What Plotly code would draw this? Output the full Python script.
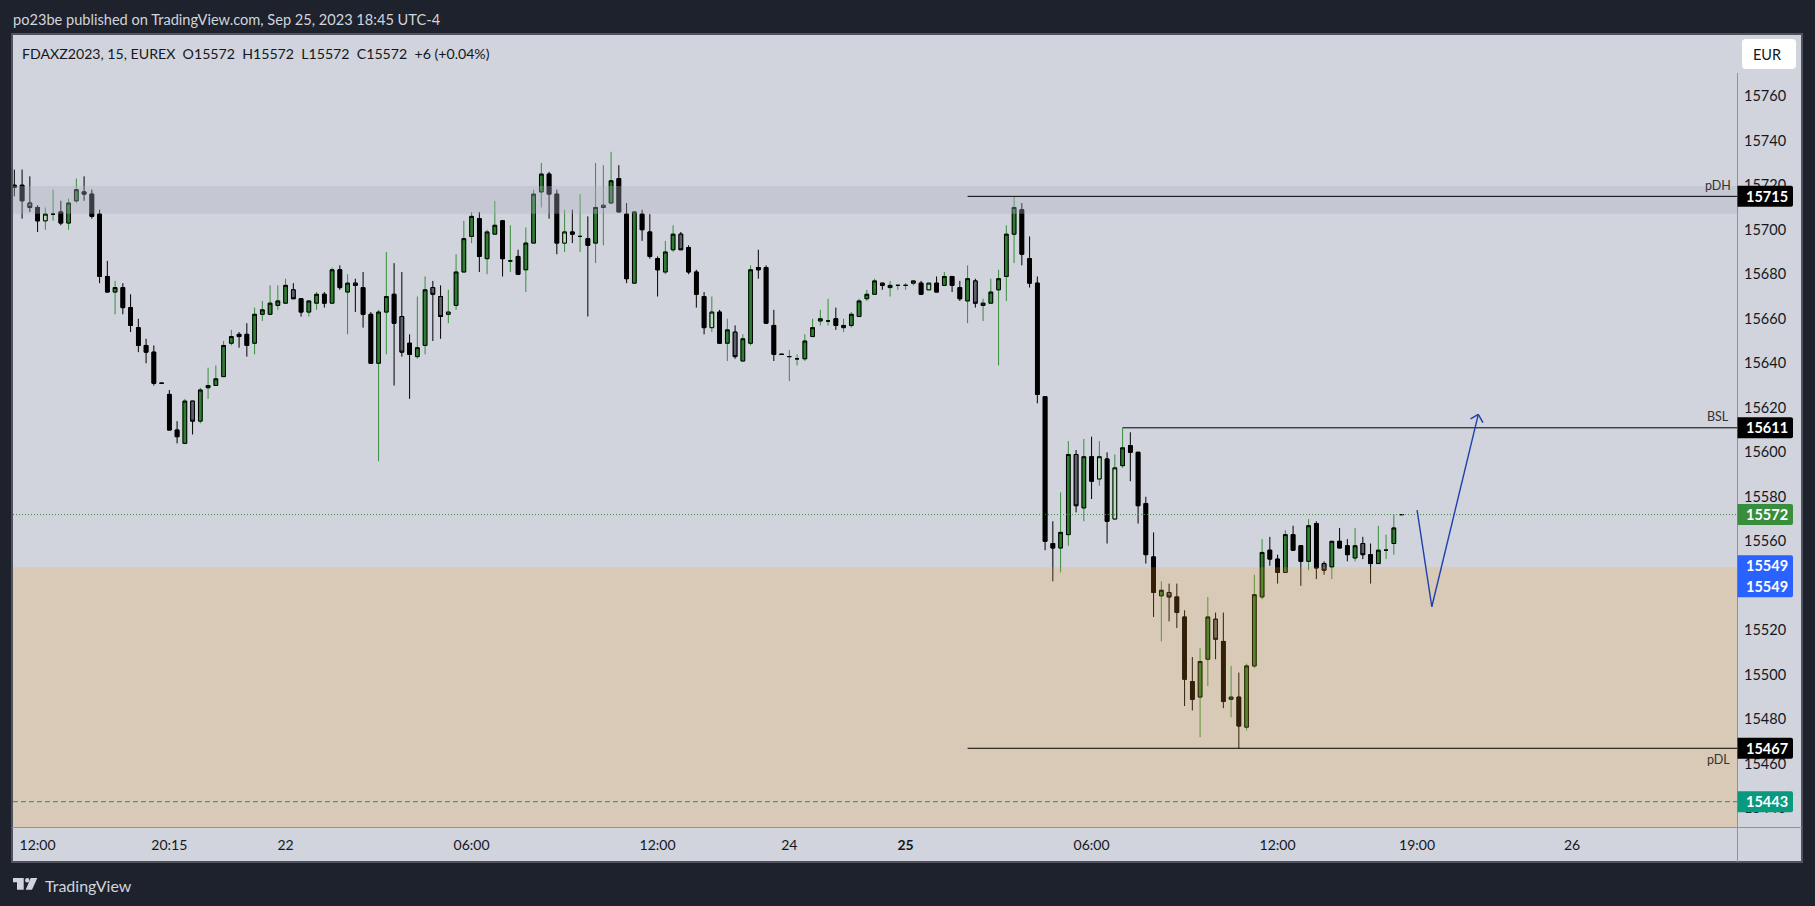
import plotly.graph_objects as go

# ---------- data ----------
opens = [15720,15720,15712,15710,15704,15707,15708,15703,15713,15717,15716,15707,15679,15672,15674,15665,15656,15648,15645,15631,
15626,15610,15604,15623,15614,15629,15630,15634,15649,15653,15653,15649,15662,15662,15666,15667,15673,15669,15663,15667,
15671,15667,15682,15672,15676,15674,15662,15640,15663,15671,15661,15649,15643,15648,15674,15670,15662,15666,15681,15697,
15705,15687,15698,15704,15686,15688,15682,15694,15717,15725,15716,15694,15699,15697,15696,15694,15710,15712,15723,15707,
15676,15707,15699,15687,15681,15691,15698,15692,15681,15670,15656,15663,15649,15654,15641,15649,15683,15683,15657,15644,
15643,15642,15642,15652,15659,15659,15660,15656,15657,15661,15669,15671,15676,15674,15675,15675,15676,15676,15673,15676,
15675,15679,15674,15668,15677,15666,15667,15673,15679,15698,15709,15687,15676,15625,15559,15557,15563,15599,15575,15598,
15588,15597,15570,15594,15603,15600,15577,15553,15535.5,15537,15535,15526,15497,15490,15507,15525,15515,15489,15490,15476.5,
15504,15535,15556,15552,15546,15563,15558,15551,15568,15550,15548.5,15560,15558,15552.5,15559,15554,15550,15556,15559,15572]
highs = [15727,15727,15724,15711,15710,15718,15713,15714,15723,15724,15718,15709,15686,15677,15676,15671,15660,15651,15648,15631,
15628,15614,15624,15623,15629,15638,15639,15650,15655,15654,15658,15665,15668,15675,15675,15678,15676,15669,15668,15672,
15672,15683,15684,15680,15678,15681,15663,15664,15690,15685,15681,15653,15670,15679,15677,15675,15673,15689,15704,15708,
15708,15700,15713,15704,15702,15691,15701,15718,15730,15726,15718,15709,15709,15716,15706,15730,15729,15735,15729,15712,
15708,15709,15707,15688,15695,15702,15699,15693,15682,15672,15670,15664,15660,15657,15653,15684,15691,15684,15664,15644,
15646,15644,15653,15660,15664,15669,15665,15660,15663,15669,15673,15678,15676,15677,15675,15676,15677,15677,15676,15679,
15681,15679,15677,15684,15678,15669,15678,15682,15702,15715,15712,15697,15679,15625,15569,15582,15605,15601,15606,15607,
15605,15600,15599,15611,15609,15600,15580,15564,15542,15541,15541,15529,15508,15512,15535,15528,15528,15504,15501,15505,
15545,15561,15562,15554,15565,15567,15558,15570,15569,15551,15560,15566,15561,15566,15562,15559,15567,15563,15572,15572]
lows = [15715,15705,15708,15699,15700,15704,15702,15700,15712,15713,15705,15676,15672,15662,15662,15654,15645,15640,15630,15631,
15610,15604,15604,15608,15613,15624,15630,15634,15648,15647,15643,15644,15659,15662,15664,15667,15669,15661,15661,15664,
15665,15667,15673,15653,15663,15656,15640,15596,15644,15630,15643,15624,15642,15644,15650,15651,15658,15664,15681,15694,
15681,15680,15698,15679,15681,15680,15672,15694,15710,15705,15689,15690,15694,15690,15661,15685,15693,15712,15708,15676,
15676,15695,15687,15670,15680,15690,15691,15680,15665,15653,15654,15649,15641,15642,15641,15648,15678,15658,15641,15644,
15632,15639,15641,15652,15657,15657,15655,15654,15656,15661,15668,15671,15673,15670,15673,15673,15675,15671,15673,15672,
15675,15672,15668,15658,15665,15659,15667,15639,15668,15685,15684,15674,15622,15556,15542,15546,15558,15573,15569,15579,
15585,15559,15570,15593,15587,15568,15550,15526,15515,15524,15521,15486,15484,15472,15495,15507,15485,15481,15467,15475,
15503,15534,15549,15541,15546,15556,15540,15547,15543,15545,15543,15557,15551,15551,15552,15541,15550,15552,15554,15572]
closes = [15719,15713,15710,15704,15707,15707,15703,15712,15718,15716,15706,15679,15672,15674,15665,15657,15648,15645,15631,15631,
15610,15607,15623,15614,15628,15630,15633,15648,15652,15652,15648,15662,15664,15667,15668,15675,15669,15663,15668,15671,
15667,15682,15674,15676,15675,15662,15640,15663,15670,15658,15645,15644,15647,15673,15671,15661,15663,15681,15696,15706,
15688,15699,15702,15687,15686,15680,15694,15716,15725,15716,15694,15699,15698,15697,15693,15710,15711,15722,15708,15678,
15708,15700,15688,15682,15690,15698,15691,15681,15671,15656,15663,15649,15655,15643,15651,15682,15682,15658,15644,15644,
15643,15642,15650,15656,15660,15659,15657,15657,15662,15668,15671,15677,15675,15675,15675,15675,15677,15671,15676,15672,
15679,15675,15669,15678,15667,15667,15672,15678,15698,15710,15689,15676,15626,15560,15557,15564,15599,15576,15598,15587,
15598,15569,15593,15602,15600,15576,15554,15537,15538,15535,15528,15498,15489,15506,15526,15516,15488,15490,15477,15504,
15536,15555,15552,15546,15563,15556,15551,15567,15548,15547,15560,15557,15554,15558,15554,15550,15556,15556,15566,15572]
# per-candle appearance: k black, g green, d slate fill, l pale green fill
kinds = list("kkdklgkggk" "kkkgkkkkkk" "kkgdgggggk" "kgggggdkgg" "kgkgdkkggk" "dkggddlggg"
             "kggkgkgggk" "klkgkglgkk" "gkkkggdkkk" "lkgdggkkkk" "ggggggkggg" "ggdggggklk"
             "gkkgdggggg" "kkkkkggdgk" "lklgkkkkgd" "kkkggdkgkg" "ggkkgkkgkd" "gkkgdkgggk")

xvals = list(range(len(opens)))

tick_prices = [15760,15740,15720,15700,15680,15660,15640,15620,15600,15580,15560,15540,15520,15500,15480,15460,15440]
time_pos = [3,20,35,59,83,100,115,139,163,181,201]
time_labels = ["12:00","20:15","22","06:00","12:00","24","<b>25</b>","06:00","12:00","19:00","26"]

band_high = [15719.6, 15707.2]      # grey zone
band_low_top = 15548.3              # tan zone top
pdh, bsl, pdl = 15715, 15611, 15467
pdh_start, bsl_start, pdl_start = 123, 143, 123
last_price, alert_price = 15572, 15443
path_x = [181, 182.9, 188.9]
path_y = [15574, 15530.6, 15617]
head_x = [187.9, 188.9, 189.5]
head_y = [15615, 15617, 15613.3]

label_vals = [15715, 15611, 15572, 15549, 15467, 15443]
label_cols = ["#000000", "#000000", "#388e3c", "#2962ff", "#000000", "#089981"]

# ---------- page geometry ----------
W, H = 1815, 906
L, R, T, B = 13, 1737, 34, 827
def px(x): return (x - L) / (R - L)
def py(y): return (B - y) / (B - T)
SPACING = 7.75
X0 = 14.33
def xr(p): return (p - X0) / SPACING
PPU = 2.2255
def price_at(y): return 15760 - (y - 96.2) / PPU

FONT = "Lato"
INK = "#131722"

fig = go.Figure()
groups = {"k": ("#000000", "#000000"), "g": ("#388e3c", "#2e7d32"),
          "d": ("#000000", "#5d606b"), "l": ("#388e3c", "#b2dfb5")}
for key, (wick, fill) in groups.items():
    idx = [i for i, k in enumerate(kinds) if k == key]
    xs = [xvals[i] for i in idx]
    o = [opens[i] for i in idx]; h = [highs[i] for i in idx]
    l = [lows[i] for i in idx]; c = [closes[i] for i in idx]
    fig.add_trace(go.Candlestick(x=xs, open=o, high=h, low=l, close=c, name=key + " wick",
        increasing=dict(line=dict(color=wick, width=1), fillcolor=wick),
        decreasing=dict(line=dict(color=wick, width=1), fillcolor=wick), showlegend=False, hoverinfo="skip"))
for key, (wick, fill) in groups.items():
    idx = [i for i, k in enumerate(kinds) if k == key]
    xs = [xvals[i] for i in idx]
    o = [opens[i] for i in idx]; c = [closes[i] for i in idx]
    t = [max(a, b) for a, b in zip(o, c)]; b_ = [min(a, b) for a, b in zip(o, c)]
    fig.add_trace(go.Candlestick(x=xs, open=o, high=t, low=b_, close=c, name=key + " body",
        increasing=dict(line=dict(color="#000000", width=1), fillcolor=fill),
        decreasing=dict(line=dict(color="#000000", width=1), fillcolor=fill), showlegend=False, hoverinfo="skip"))

def rounded(x0, y0, x1, y1, r):
    a = [(px(x), py(y)) for x, y in [(x0+r,y0),(x1-r,y0),(x1,y0),(x1,y0+r),(x1,y1-r),(x1,y1),(x1-r,y1),(x0+r,y1),(x0,y1),(x0,y1-r),(x0,y0+r),(x0,y0)]]
    s = "M{},{} L{},{} Q{},{} {},{} L{},{} Q{},{} {},{} L{},{} Q{},{} {},{} L{},{} Q{},{} {},{} Z"
    seq = a + [a[0]]
    return s.format(*[v for p_ in seq for v in p_])

def tag(x0, y0, x1, y1, r):
    # square on the axis side, rounded on the outer side
    p = lambda x, y: f"{px(x)},{py(y)}"
    return (f"M{p(x0,y0)} L{p(x1-r,y0)} Q{p(x1,y0)} {p(x1,y0+r)} L{p(x1,y1-r)} Q{p(x1,y1)} {p(x1-r,y1)} L{p(x0,y1)} Z")

def poly(points):
    return "M" + " L".join(f"{px(x)},{py(y)}" for x, y in points) + " Z"

shapes = []
# chart frame behind everything
shapes.append(dict(type="rect", xref="paper", yref="paper", layer="below",
    x0=px(12), x1=px(1802), y0=py(34), y1=py(862), fillcolor="#d1d4dc",
    line=dict(color="#50535e", width=2)))
# zones above candles, tinting them
shapes.append(dict(type="rect", xref="paper", yref="y", layer="above", x0=0, x1=1, y0=band_high[1], y1=band_high[0],
    fillcolor="rgba(177,180,194,0.34)", line=dict(width=0)))
shapes.append(dict(type="rect", xref="paper", yref="y", layer="above", x0=0, x1=1, y0=price_at(B), y1=band_low_top,
    fillcolor="rgba(250,165,40,0.2)", line=dict(width=0)))
# levels
for start, lv in [(pdh_start, pdh), (bsl_start, bsl), (pdl_start, pdl)]:
    shapes.append(dict(type="line", xref="x", yref="y", layer="above", x0=start, x1=xr(R), y0=lv, y1=lv,
        line=dict(color="#000000", width=1)))
shapes.append(dict(type="line", xref="paper", yref="y", layer="above", x0=0, x1=1, y0=last_price, y1=last_price,
    line=dict(color="#388e3c", width=1, dash="1px,2px")))
shapes.append(dict(type="line", xref="paper", yref="y", layer="above", x0=0, x1=1, y0=alert_price, y1=alert_price,
    line=dict(color="#089981", width=1, dash="5px,3px")))
# hand-drawn path
for i in range(len(path_x) - 1):
    shapes.append(dict(type="line", xref="x", yref="y", layer="above", x0=path_x[i], x1=path_x[i+1], y0=path_y[i], y1=path_y[i+1],
        line=dict(color="#1e40af", width=1.4)))
for i in [0, 2]:
    shapes.append(dict(type="line", xref="x", yref="y", layer="above", x0=head_x[i], x1=head_x[1], y0=head_y[i], y1=head_y[1],
        line=dict(color="#1e40af", width=1.4)))
# axis rules
shapes.append(dict(type="line", xref="paper", yref="paper", layer="above", x0=px(R+0.5), x1=px(R+0.5), y0=py(73), y1=py(862),
    line=dict(color="#8f929c", width=1)))
shapes.append(dict(type="line", xref="paper", yref="paper", layer="above", x0=px(12), x1=px(1802), y0=py(827.5), y1=py(827.5),
    line=dict(color="#8f929c", width=1)))
# EUR button
shapes.append(dict(type="path", xref="paper", yref="paper", layer="above", path=rounded(1742, 39, 1796, 69, 4),
    fillcolor="#ffffff", line=dict(width=0)))
# price tags
for v, col in zip(label_vals, label_cols):
    yc = B - (v - price_at(B)) * PPU
    top, bot = yc - 10.5, yc + 10.5
    if col == "#2962ff":
        bot = yc + 31.5
    shapes.append(dict(type="path", xref="paper", yref="paper", layer="above", path=tag(1737.5, top, 1793, bot, 2),
        fillcolor=col, line=dict(width=0)))
# logo
shapes.append(dict(type="path", xref="paper", yref="paper", layer="above",
    path=poly([(13,878),(23.7,878),(23.7,889.7),(17,889.7),(17,882.3),(13,882.3)]), fillcolor="#d1d4dc", line=dict(width=0)))
shapes.append(dict(type="circle", xref="paper", yref="paper", layer="above",
    x0=px(25), x1=px(29.5), y0=py(878), y1=py(882.4), fillcolor="#d1d4dc", line=dict(width=0)))
shapes.append(dict(type="path", xref="paper", yref="paper", layer="above",
    path=poly([(30.7,878),(37.3,878),(32,889.7),(25.7,889.7)]), fillcolor="#d1d4dc", line=dict(width=0)))

ann = []
def text(x, y, s, size, color, anchor="left"):
    ann.append(dict(xref="paper", yref="paper", x=px(x), y=py(y), text=s, showarrow=False, xanchor=anchor, yanchor="middle",
                    font=dict(family=FONT, size=size, color=color)))
text(11, 20, "po23be published on TradingView.com, Sep 25, 2023 18:45 UTC-4", 14.6, "#d1d4dc")
text(20, 53.5, "FDAXZ2023, 15, EUREX&nbsp; O15572&nbsp; H15572&nbsp; L15572&nbsp; C15572&nbsp; +6 (+0.04%)", 14.15, "#131722")
text(1767, 54, "EUR", 14.5, "#131722", "center")
text(43, 885, "TradingView", 16, "#d1d4dc")
text(1717.7, 185.7, "pDH", 12.5, "#333333", "center")
text(1717.7, 416, "BSL", 12.5, "#333333", "center")
text(1718.5, 759, "pDL", 12.5, "#333333", "center")
for v in label_vals:
    yc = B - (v - price_at(B)) * PPU
    text(1766.7, yc, f"<b>{v}</b>", 14.5, "#ffffff", "center")
    if v == 15549:
        text(1766.7, yc + 21, f"<b>{v}</b>", 14.5, "#ffffff", "center")

fig.update_layout(
    width=W, height=H, margin=dict(l=L, r=W - R, t=T, b=H - B, pad=0),
    paper_bgcolor="#1e222d", plot_bgcolor="#d1d4dc", showlegend=False, boxgap=0.52, boxgroupgap=0,
    shapes=shapes, annotations=ann, font=dict(family=FONT, size=14, color=INK),
    xaxis=dict(type="linear", range=[xr(L), xr(R)], rangeslider=dict(visible=False), showgrid=False, zeroline=False,
               tickmode="array", tickvals=time_pos, ticktext=time_labels, ticks="", showline=False,
               tickfont=dict(family=FONT, size=14, color=INK), ticklabelstandoff=8),
    yaxis=dict(type="linear", side="right", range=[price_at(B), price_at(T)], showgrid=False, zeroline=False,
               tickmode="array", tickvals=tick_prices, ticktext=[str(v) for v in tick_prices], ticks="", showline=False,
               tickfont=dict(family=FONT, size=14.5, color=INK), ticklabelstandoff=6),
)
fig.write_html("out.html", config={"displayModeBar": False},
               post_script="document.body.style.margin='0';document.body.style.background='#1e222d';")
